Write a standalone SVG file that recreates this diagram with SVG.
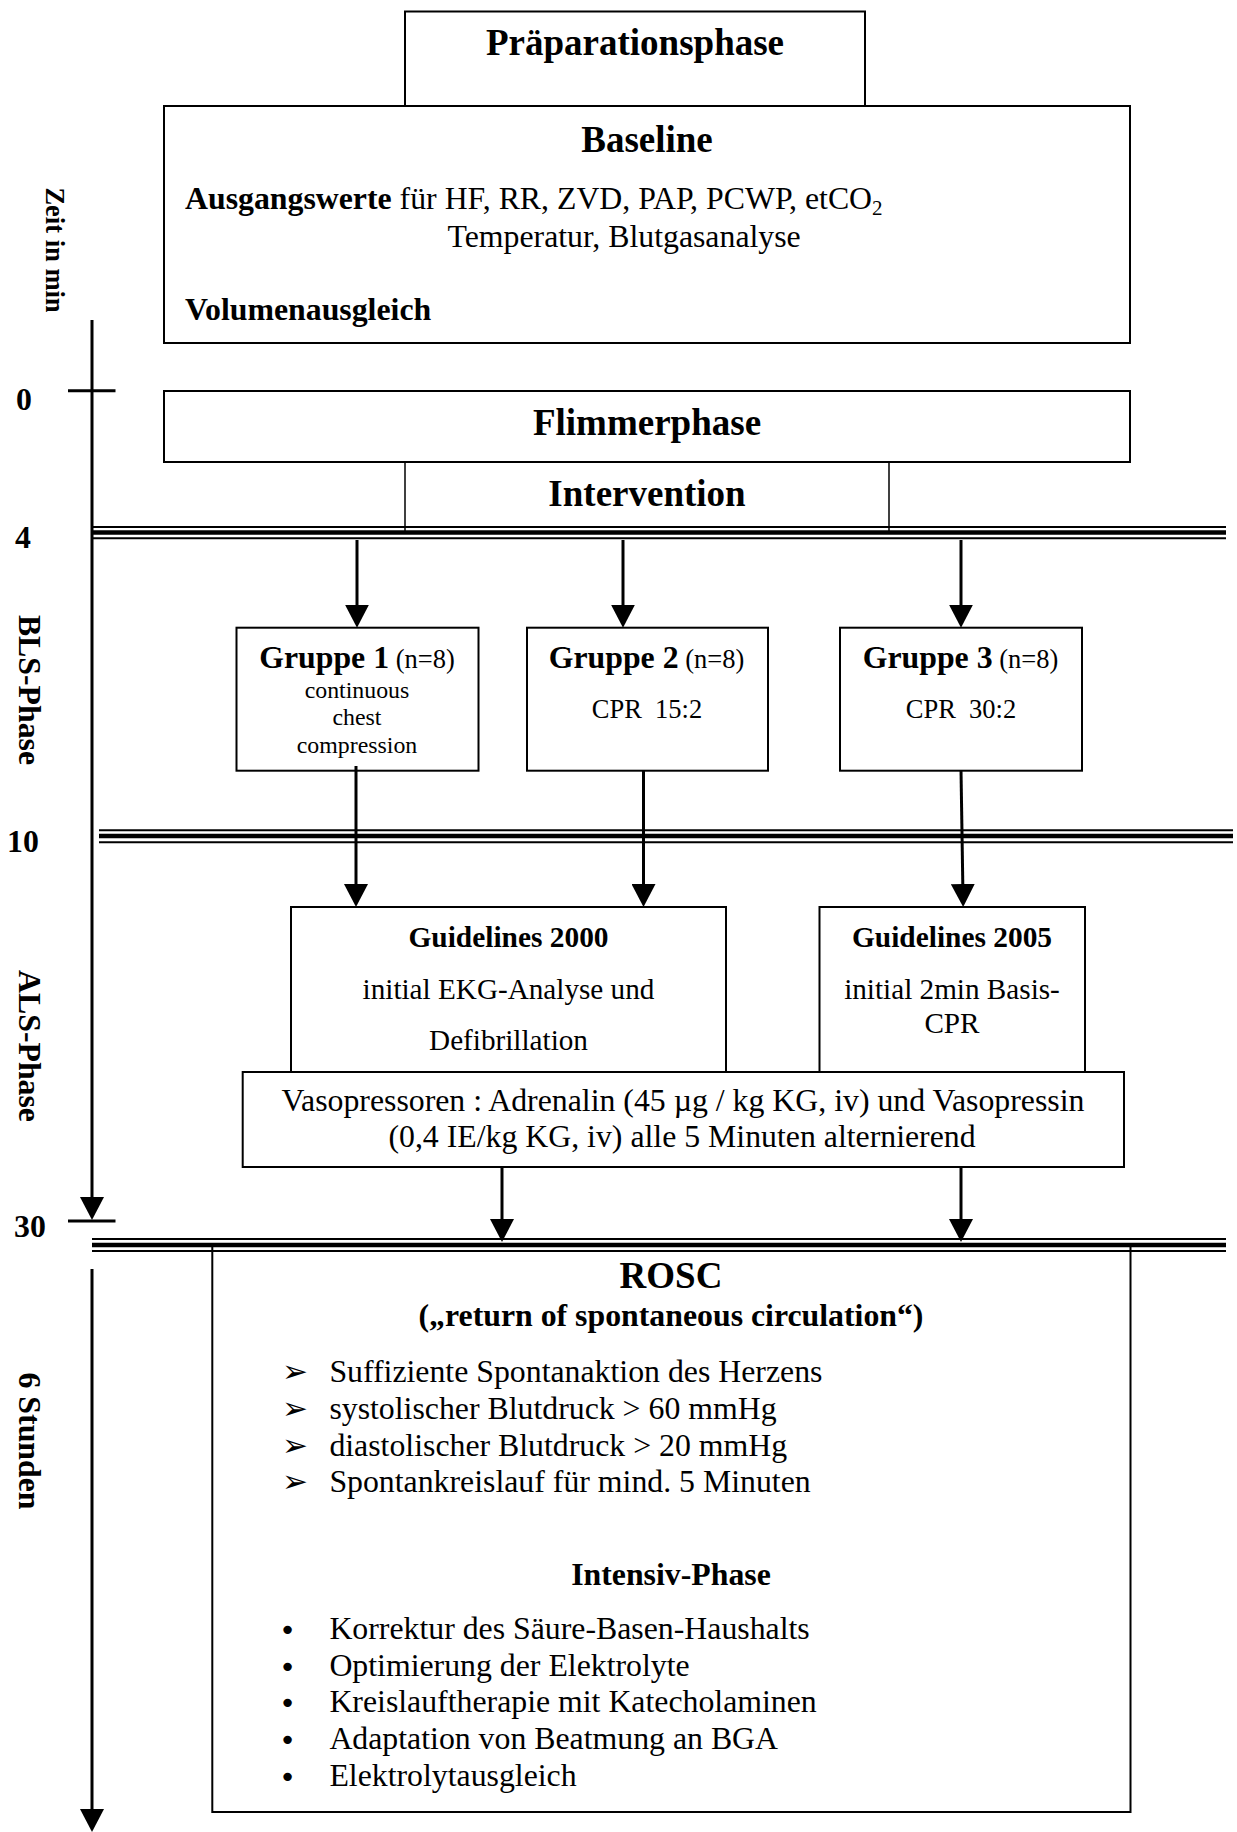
<svg xmlns="http://www.w3.org/2000/svg" width="1237" height="1832" viewBox="0 0 1237 1832">
<style>
text{font-family:"Liberation Serif","Times New Roman",serif;fill:#000}
.h14{font-size:37px;font-weight:bold}
.b12{font-size:31.8px;font-weight:bold}
.r12{font-size:31.8px}
.b11{font-size:29.4px;font-weight:bold}
.r11{font-size:29.2px}
.r10{font-size:26.5px}
.r9{font-size:23.85px}
.m{text-anchor:middle}
.box{fill:#fff;stroke:#000;stroke-width:2}
.open{fill:none;stroke:#000;stroke-width:2}
.thin{stroke:#000;stroke-width:1.5;fill:none}
.arr{stroke:#000;stroke-width:3;fill:none;marker-end:url(#ah)}
.axis{stroke:#000;stroke-width:3;fill:none}
.t1{stroke:#000;stroke-width:2}
.t2{stroke:#000;stroke-width:4.5}
.bul{font-family:"DejaVu Sans",sans-serif;font-size:31px}
.dot{font-family:"DejaVu Sans",sans-serif;font-size:29px}
</style>
<defs>
<marker id="ah" viewBox="0 0 23 24" markerWidth="23" markerHeight="24" refX="13" refY="12" orient="auto" markerUnits="userSpaceOnUse" preserveAspectRatio="none">
<path d="M0,0 L23,12 L0,24 Z" fill="#000"/>
</marker>
</defs>
<rect width="1237" height="1832" fill="#fff"/>

<g id="praeparationsphase">
<rect class="box" x="405" y="11.5" width="460" height="94.5"/>
<text class="h14 m" x="635" y="55">Präparationsphase</text>
</g>

<g id="baseline">
<rect class="box" x="164" y="106" width="966" height="237"/>
<text class="h14 m" x="647" y="152">Baseline</text>
<text class="r12" x="185" y="209"><tspan font-weight="bold">Ausgangswerte</tspan> für HF, RR, ZVD, PAP, PCWP, etCO<tspan font-size="21" dy="6">2</tspan></text>
<text class="r12" x="447.5" y="246.7">Temperatur, Blutgasanalyse</text>
<text class="b12" x="185" y="320">Volumenausgleich</text>
</g>

<g id="flimmerphase">
<rect class="box" x="164" y="391" width="966" height="71"/>
<text class="h14 m" x="647" y="435">Flimmerphase</text>
</g>

<g id="intervention">
<line class="thin" x1="405" y1="462" x2="405" y2="531"/>
<line class="thin" x1="889" y1="462" x2="889" y2="531"/>
<text class="h14 m" x="647" y="506">Intervention</text>
</g>

<g id="gruppe1">
<rect class="box" x="236.5" y="627.7" width="242" height="143"/>
<text class="m" x="357" y="668"><tspan class="b12">Gruppe 1</tspan><tspan class="r10"> (n=8)</tspan></text>
<text class="r9 m" x="357" y="697.7">continuous</text>
<text class="r9 m" x="357" y="725">chest</text>
<text class="r9 m" x="357" y="752.7">compression</text>
</g>

<g id="gruppe2">
<rect class="box" x="527" y="627.7" width="241" height="143"/>
<text class="m" x="646.5" y="668"><tspan class="b12">Gruppe 2</tspan><tspan class="r10"> (n=8)</tspan></text>
<text class="r10 m" x="647" y="718.3">CPR&#160; 15:2</text>
</g>

<g id="gruppe3">
<rect class="box" x="840" y="627.7" width="242" height="143"/>
<text class="m" x="960.5" y="668"><tspan class="b12">Gruppe 3</tspan><tspan class="r10"> (n=8)</tspan></text>
<text class="r10 m" x="961" y="718.3">CPR&#160; 30:2</text>
</g>

<g id="guidelines2000">
<rect class="box" x="291" y="907" width="435" height="165"/>
<text class="b11 m" x="508.5" y="946.7">Guidelines 2000</text>
<text class="r11 m" x="508.5" y="999">initial EKG-Analyse und</text>
<text class="r11 m" x="508.5" y="1050">Defibrillation</text>
</g>

<g id="guidelines2005">
<rect class="box" x="819.5" y="907" width="265.5" height="165"/>
<text class="b11 m" x="952" y="946.7">Guidelines 2005</text>
<text class="r11 m" x="952" y="999.3">initial 2min Basis-</text>
<text class="r11 m" x="952" y="1033">CPR</text>
</g>

<g id="vasopressoren">
<rect class="box" x="242.7" y="1072" width="881.3" height="95"/>
<text class="r12 m" x="683" y="1111">Vasopressoren : Adrenalin (45 µg / kg KG, iv) und Vasopressin</text>
<text class="r12 m" x="682" y="1146.7">(0,4 IE/kg KG, iv) alle 5 Minuten alternierend</text>
</g>

<g id="rosc">
<path class="open" d="M212.3,1245 V1812 H1130.5 V1245"/>
<text class="h14 m" x="671" y="1288">ROSC</text>
<text class="b12 m" x="671" y="1325.5">(„return of spontaneous circulation“)</text>
<text class="bul" x="282" y="1382">➢</text>
<text class="bul" x="282" y="1419">➢</text>
<text class="bul" x="282" y="1456">➢</text>
<text class="bul" x="282" y="1492">➢</text>
<text class="r12" x="329.4" y="1382">Suffiziente Spontanaktion des Herzens</text>
<text class="r12" x="329.4" y="1419">systolischer Blutdruck &gt; 60 mmHg</text>
<text class="r12" x="329.4" y="1456">diastolischer Blutdruck &gt; 20 mmHg</text>
<text class="r12" x="329.4" y="1492">Spontankreislauf für mind. 5 Minuten</text>
<text class="b12 m" x="671" y="1585">Intensiv-Phase</text>
<text class="dot" x="279" y="1640">•</text>
<text class="dot" x="279" y="1677">•</text>
<text class="dot" x="279" y="1713">•</text>
<text class="dot" x="279" y="1750">•</text>
<text class="dot" x="279" y="1787">•</text>
<text class="r12" x="329.4" y="1639">Korrektur des Säure-Basen-Haushalts</text>
<text class="r12" x="329.4" y="1676">Optimierung der Elektrolyte</text>
<text class="r12" x="329.4" y="1712">Kreislauftherapie mit Katecholaminen</text>
<text class="r12" x="329.4" y="1749">Adaptation von Beatmung an BGA</text>
<text class="r12" x="329.4" y="1786">Elektrolytausgleich</text>
</g>

<g id="timeline">
<text class="b12" transform="translate(46,250) rotate(90)" style="font-size:26.5px" text-anchor="middle">Zeit in min</text>
<line class="axis" x1="92" y1="320" x2="92" y2="1210" marker-end="url(#ah)"/>
<line class="axis" x1="92" y1="1269" x2="92" y2="1822" marker-end="url(#ah)"/>
<line class="axis" x1="68" y1="390.7" x2="115.5" y2="390.7"/>
<line class="axis" x1="68" y1="1221" x2="115.5" y2="1221"/>
<text class="b12" x="16" y="410">0</text>
<text class="b12" x="15" y="547.5">4</text>
<text class="b12" x="7" y="852">10</text>
<text class="b12" x="14" y="1237">30</text>
<text class="b12" transform="translate(19,690) rotate(90)" text-anchor="middle">BLS-Phase</text>
<text class="b12" transform="translate(19,1046) rotate(90)" text-anchor="middle">ALS-Phase</text>
<text class="b12" transform="translate(19,1441) rotate(90)" text-anchor="middle">6 Stunden</text>
<line class="t1" x1="92" y1="527" x2="1226" y2="527"/>
<line class="t2" x1="92" y1="532.5" x2="1226" y2="532.5"/>
<line class="t1" x1="92" y1="538.3" x2="1226" y2="538.3"/>
<line class="t1" x1="99" y1="830.3" x2="1233" y2="830.3"/>
<line class="t2" x1="99" y1="836" x2="1233" y2="836"/>
<line class="t1" x1="99" y1="842.3" x2="1233" y2="842.3"/>
<line class="t1" x1="92" y1="1239" x2="1226" y2="1239"/>
<line class="t2" x1="92" y1="1245" x2="1226" y2="1245"/>
<line class="t1" x1="92" y1="1251" x2="1226" y2="1251"/>
</g>

<g id="connectors">
<line class="arr" x1="357" y1="540" x2="357" y2="617.7"/>
<line class="arr" x1="623" y1="540" x2="623" y2="617.7"/>
<line class="arr" x1="961" y1="540" x2="961" y2="617.7"/>
<line class="arr" x1="356" y1="766" x2="356" y2="897"/>
<line class="arr" x1="643.5" y1="770" x2="643.5" y2="897"/>
<line class="arr" x1="961" y1="770" x2="963" y2="897"/>
<line class="arr" x1="502" y1="1167" x2="502" y2="1232"/>
<line class="arr" x1="961" y1="1167" x2="961" y2="1232"/>
</g>
</svg>
